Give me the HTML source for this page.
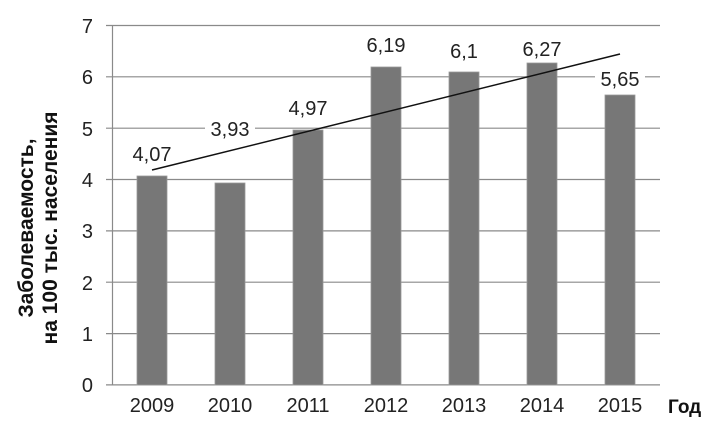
<!DOCTYPE html>
<html><head><meta charset="utf-8"><style>body{margin:0;background:#fff}svg{display:block}text{font-family:"Liberation Sans",sans-serif}</style></head><body>
<svg width="711" height="433" viewBox="0 0 711 433">
<g stroke="#8a8a8a" stroke-width="1.2">
<line x1="106" y1="25.5" x2="660" y2="25.5"/><line x1="106" y1="76.8" x2="660" y2="76.8"/><line x1="106" y1="128.2" x2="660" y2="128.2"/><line x1="106" y1="179.5" x2="660" y2="179.5"/><line x1="106" y1="230.9" x2="660" y2="230.9"/><line x1="106" y1="282.2" x2="660" y2="282.2"/><line x1="106" y1="333.6" x2="660" y2="333.6"/><line x1="106" y1="384.9" x2="660" y2="384.9"/>
<line x1="112.5" y1="25" x2="112.5" y2="385"/>
</g>
<g fill="#777" stroke="#999" stroke-width="0.8">
<rect x="137" y="176" width="30" height="209"/><rect x="215" y="183" width="30" height="202"/><rect x="293" y="130" width="30" height="255"/><rect x="371" y="67" width="30" height="318"/><rect x="449" y="72" width="30" height="313"/><rect x="527" y="63" width="30" height="322"/><rect x="605" y="95" width="30" height="290"/>
</g>
<line x1="152" y1="170" x2="620" y2="54" stroke="#111" stroke-width="1.5"/>
<g font-size="20" fill="#222" text-anchor="end">
<text x="93" y="33">7</text><text x="93" y="84">6</text><text x="93" y="136">5</text><text x="93" y="187">4</text><text x="93" y="238">3</text><text x="93" y="290">2</text><text x="93" y="341">1</text><text x="93" y="392">0</text>
</g>
<g font-size="20" fill="#222" text-anchor="middle">
<text x="152" y="412">2009</text><text x="230" y="412">2010</text><text x="308" y="412">2011</text><text x="386" y="412">2012</text><text x="464" y="412">2013</text><text x="542" y="412">2014</text><text x="620" y="412">2015</text>
<text x="152" y="161">4,07</text>
<rect x="205" y="118" width="50" height="21" fill="#fff"/><text x="230" y="136">3,93</text>
<text x="308" y="115">4,97</text>
<text x="386" y="52">6,19</text>
<text x="464" y="58">6,1</text>
<text x="542" y="56">6,27</text>
<rect x="595" y="68" width="50" height="21" fill="#fff"/><text x="620" y="86">5,65</text>
</g>
<text x="668" y="413" font-size="19" font-weight="bold" fill="#111">Год</text>
<g font-size="21" font-weight="bold" fill="#111" text-anchor="middle">
<text transform="translate(33,228) rotate(-90)">Заболеваемость,</text>
<text transform="translate(57,228) rotate(-90)">на 100 тыс. населения</text>
</g>
</svg>
</body></html>
